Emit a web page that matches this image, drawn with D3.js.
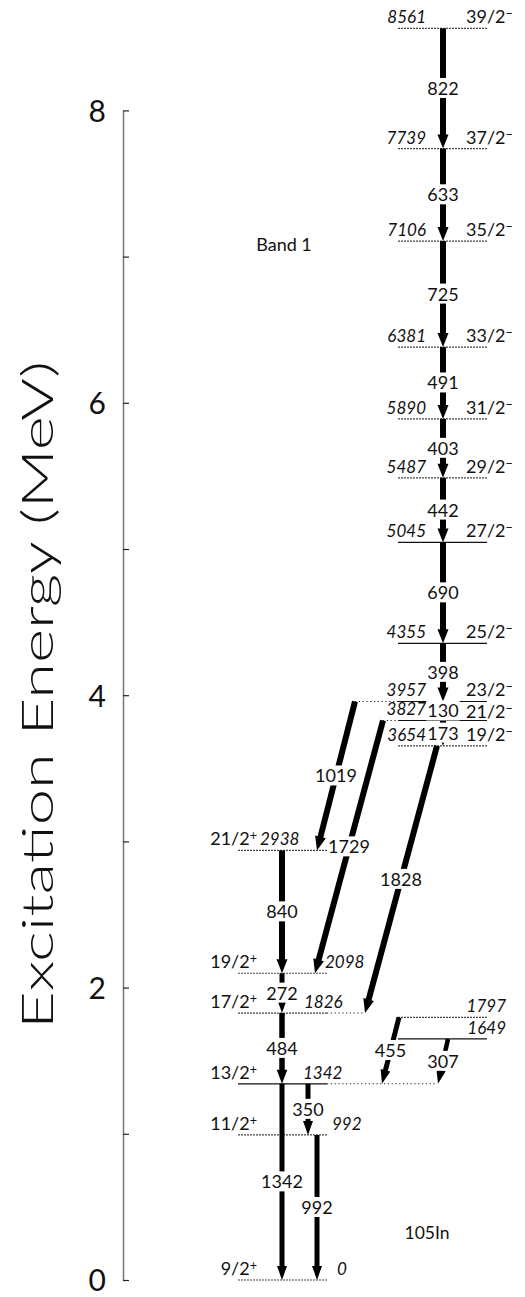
<!DOCTYPE html>
<html><head><meta charset="utf-8">
<script src="https://cdn.jsdelivr.net/npm/d3@7"></script>
<style>
html,body{margin:0;padding:0;background:#fff;}
svg{display:block;font-family:"Lato","DejaVu Sans",sans-serif;}
</style></head>
<body>
<svg id="chart" width="525" height="1297"></svg>
<script>
// ---------- data ----------
const levelEnergies = [0, 992, 1342, 1826, 2098, 2938, 1649, 1797, 3654, 3827, 3957, 4355, 5045, 5487, 5890, 6381, 7106, 7739, 8561];
const levelSpins    = ["9/2+", "11/2+", "13/2+", "17/2+", "19/2+", "21/2+", "", "", "19/2-", "21/2-", "23/2-", "25/2-", "27/2-", "29/2-", "31/2-", "33/2-", "35/2-", "37/2-", "39/2-"];
const levelGroups   = ["low", "low", "low", "low", "low", "low", "side", "side", "band", "band", "band", "band", "band", "band", "band", "band", "band", "band", "band"];

const gammaEnergies = [822, 633, 725, 491, 403, 442, 690, 398, 130, 173, 1019, 1729, 1828, 840, 272, 484, 350, 1342, 992, 455, 307];
const gammaFrom     = [8561, 7739, 7106, 6381, 5890, 5487, 5045, 4355, 3957, 3827, 3957, 3827, 3654, 2938, 2098, 1826, 1342, 1342, 992, 1797, 1649];
const gammaTo       = [7739, 7106, 6381, 5890, 5487, 5045, 4355, 3957, 3827, 3654, 2938, 2098, 1826, 2098, 1826, 1342, 992, 0, 0, 1342, 1342];

const axisTicks = [0, 1000, 2000, 3000, 4000, 5000, 6000, 7000, 8000];
const axisTickLabels = ["0", "", "2", "", "4", "", "6", "", "8"];
const bandLabel = "Band 1";
const nucleusLabel = "105In";
const yTitle = "Excitation Energy (MeV)";

// ---------- layout ----------
const svg = d3.select("#chart");
const y = d3.scaleLinear().domain([0, 8000]).range([1280, 110.4]);

const groupX = { low: [238, 327], side: [398, 487], band: [398, 487] };
const grainy = new Set([8561, 7739, 7106, 6381, 5890, 5487, 3654, 2938, 2098, 1826, 992, 0, 1797]);
const extensions = { 3957: [355, 398], 3827: [383, 398], 1826: [327, 365], 1342: [327, 437] };
const lowEnergyLabelX = { 2938: 260, 2098: 325, 1826: 304, 1342: 303, 992: 332, 0: 337 };
const spinBaseline = { 3827: -2 };

const gammaX = {
  1019: [355, 317], 1729: [383, 315], 1828: [437, 365],
  840: [282, 282], 272: [282, 282], 484: [282, 282], 1342: [282, 282],
  350: [308, 308], 992: [317, 317], 455: [399, 382], 307: [448, 438]
};
const gammaW = { 1342: 5, 992: 5, 350: 5, 455: 5, 307: 4.5, 272: 5, 484: 5.5 };

const FS_E = 17, FS_S = 18, FS_G = 18;

// ---------- axis ----------
const axis = d3.axisLeft(y).tickValues(axisTicks)
  .tickFormat((d, i) => axisTickLabels[i]).tickSize(-6).tickSizeOuter(0).tickPadding(17);
const gAxis = svg.append("g").attr("transform", "translate(123,0)").call(axis);
gAxis.select(".domain").attr("stroke", "#777").attr("stroke-width", 1.5);
gAxis.selectAll(".tick line").attr("stroke", "#222").attr("stroke-width", 1.2);
gAxis.selectAll(".tick text").attr("font-size", 30).attr("font-weight", 400)
  .attr("fill", "#111").attr("font-family", "Lato, 'DejaVu Sans', sans-serif").attr("dy", "0.36em");

svg.append("text")
  .attr("transform", "translate(53,695) rotate(-90)")
  .attr("text-anchor", "middle").attr("font-size", 44).attr("font-weight", 300).attr("fill", "#111")
  .attr("textLength", 668).attr("lengthAdjust", "spacingAndGlyphs")
  .text(yTitle);

// ---------- levels ----------
const levels = levelEnergies.map((e, i) => ({ e, spin: levelSpins[i], group: levelGroups[i] }));

const gLev = svg.append("g");
levels.forEach(L => {
  const [x1, x2] = groupX[L.group];
  const yy = y(L.e);
  const ln = gLev.append("line").attr("x1", x1).attr("x2", x2).attr("y1", yy).attr("y2", yy)
    .attr("stroke", grainy.has(L.e) ? "#444" : "#111").attr("stroke-width", 1.2);
  if (grainy.has(L.e)) ln.attr("stroke-dasharray", "2,1");
  if (extensions[L.e]) {
    const [ex1, ex2] = extensions[L.e];
    gLev.append("line").attr("x1", ex1).attr("x2", ex2).attr("y1", yy).attr("y2", yy)
      .attr("stroke", "#222").attr("stroke-width", 1.1).attr("stroke-dasharray", "1.2,2.6");
  }
});

function spinText(sel, spin) {
  if (!spin) return;
  const sign = spin.slice(-1);
  sel.append("tspan").text(spin.slice(0, -1));
  sel.append("tspan").attr("dy", -5).attr("font-size", "0.7em").text(sign === "-" ? "\u2212" : "+");
}

// band & side labels
levels.filter(L => L.group !== "low").forEach(L => {
  const yy = y(L.e);
  if (L.group === "band") {
    svg.append("text").attr("x", 426).attr("y", yy - 5).attr("text-anchor", "end")
      .attr("font-size", FS_E).attr("font-style", "italic").attr("fill", "#111").text(L.e);
    const t = svg.append("text").attr("x", 466).attr("y", yy + (spinBaseline[L.e] ?? -5))
      .attr("font-size", FS_S).attr("fill", "#111");
    spinText(t, L.spin);
  } else {
    svg.append("text").attr("x", 506).attr("y", yy - 5).attr("text-anchor", "end")
      .attr("font-size", FS_E).attr("font-style", "italic").attr("fill", "#111").text(L.e);
  }
});
// low labels
levels.filter(L => L.group === "low").forEach(L => {
  const yy = y(L.e);
  const t = svg.append("text").attr("x", 257).attr("y", yy - 5).attr("text-anchor", "end")
    .attr("font-size", FS_S).attr("fill", "#111");
  spinText(t, L.spin);
  svg.append("text").attr("x", lowEnergyLabelX[L.e]).attr("y", yy - 5)
    .attr("font-size", FS_E).attr("font-style", "italic").attr("fill", "#111").text(L.e);
});

// ---------- gammas ----------
const gammas = gammaEnergies.map((g, i) => ({ g, from: gammaFrom[i], to: gammaTo[i] }));
const gG = svg.append("g");
const gLab = svg.append("g");
gammas.forEach(G => {
  const [xa, xb] = gammaX[G.g] || [443, 443];
  const ya = y(G.from), yb = y(G.to);
  const w = gammaW[G.g] || 6;
  const dx = xb - xa, dy = yb - ya, len = Math.hypot(dx, dy);
  const ux = dx / len, uy = dy / len;
  const head = Math.min(14, len * 0.6), hw = w + 5;
  const bx = xb - ux * head, by = yb - uy * head;
  gG.append("line").attr("x1", xa).attr("y1", ya).attr("x2", bx + ux * 1).attr("y2", by + uy * 1)
    .attr("stroke", "#000").attr("stroke-width", w);
  const px = -uy, py = ux;
  gG.append("path")
    .attr("d", `M${xb},${yb}L${bx + px * hw / 2},${by + py * hw / 2}L${bx - px * hw / 2},${by - py * hw / 2}Z`)
    .attr("fill", "#000");
  const mx = (xa + xb) / 2, my = (ya + yb) / 2;
  const t = gLab.append("text").attr("x", mx).attr("y", my).attr("dy", "0.36em")
    .attr("text-anchor", "middle").attr("font-size", FS_G).attr("fill", "#111").text(G.g);
  const bb = t.node().getBBox();
  gLab.insert("rect", () => t.node()).attr("x", bb.x - 1).attr("y", bb.y + 1)
    .attr("width", bb.width + 2).attr("height", bb.height - 2).attr("fill", "#fff");
});

// ---------- annotations ----------
svg.append("text").attr("x", 284).attr("y", 251).attr("text-anchor", "middle")
  .attr("font-size", 18).attr("fill", "#111").text(bandLabel);
svg.append("text").attr("x", 427).attr("y", 1239).attr("text-anchor", "middle")
  .attr("font-size", 17.5).attr("fill", "#111").text(nucleusLabel);
</script>
</body></html>
